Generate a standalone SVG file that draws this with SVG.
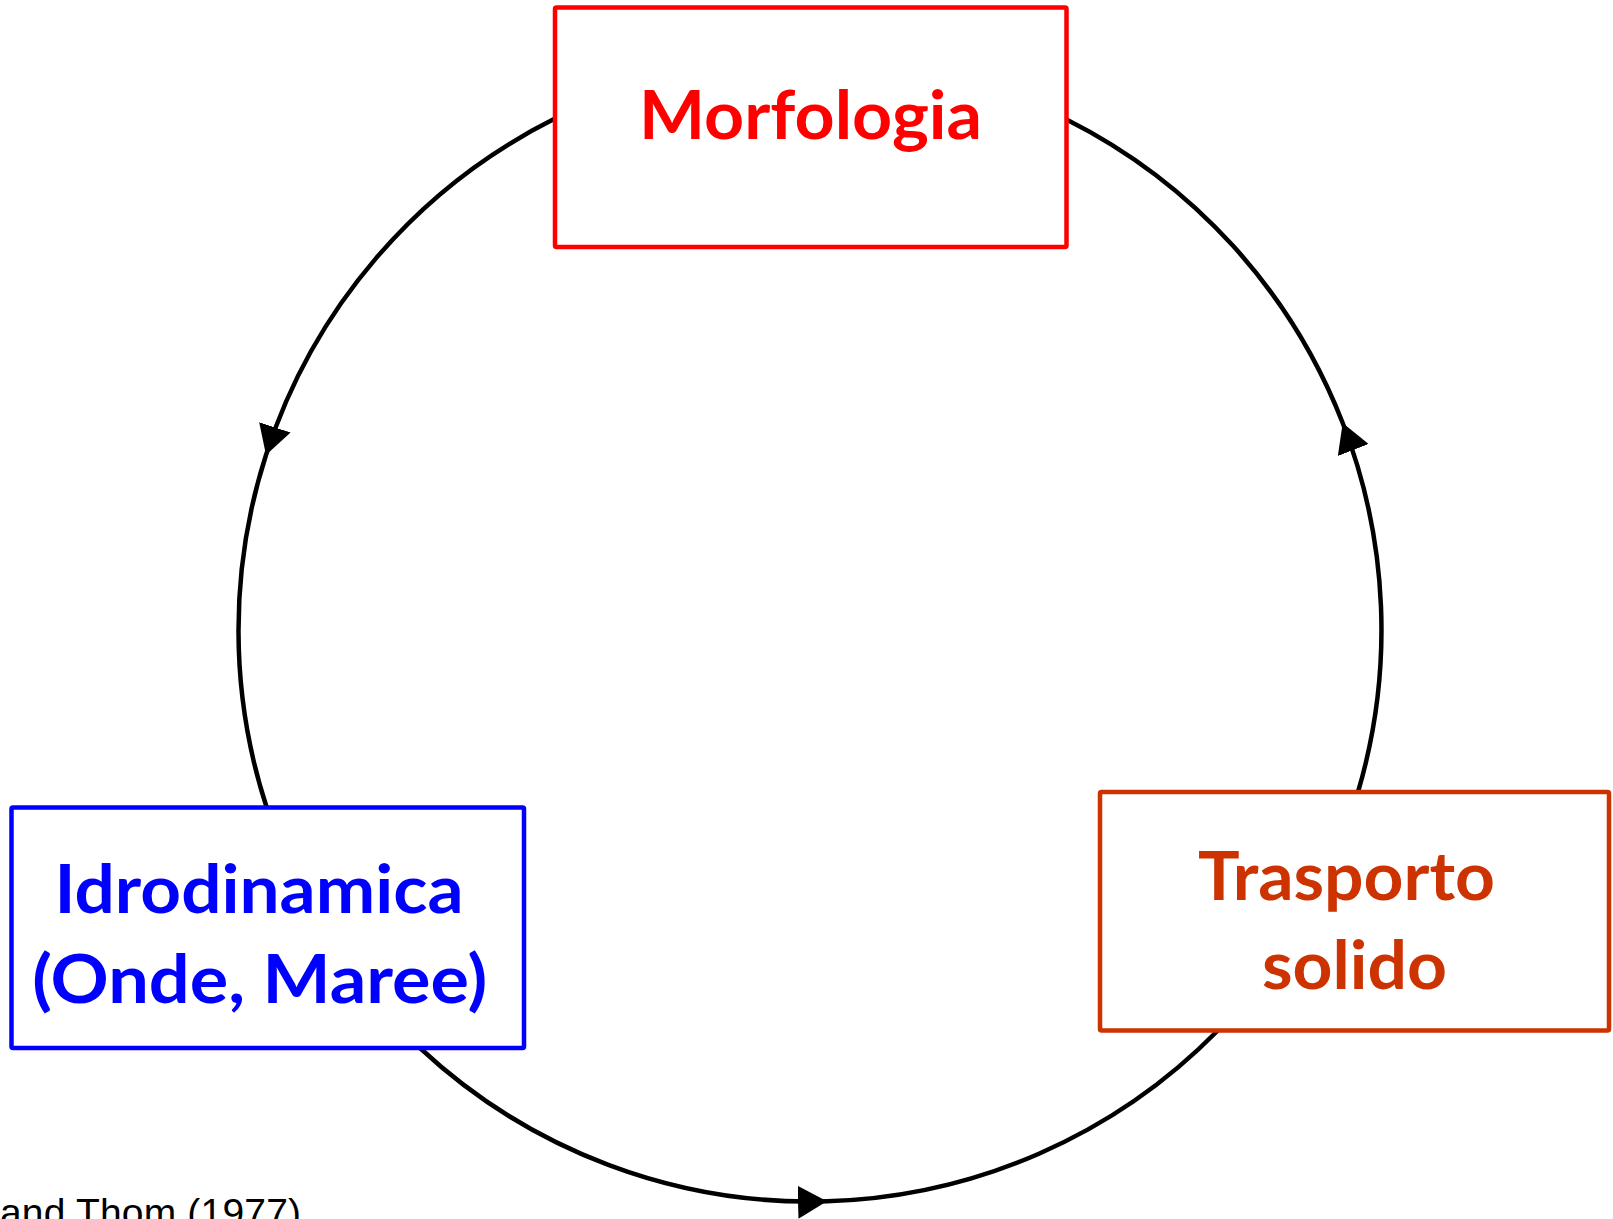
<svg xmlns="http://www.w3.org/2000/svg" width="1613" height="1219" viewBox="0 0 1613 1219">
<style>
  .box { fill: #ffffff; stroke-linejoin: round; stroke-width: 4.5; }
  .lbl { font-family: Lato, "Open Sans", "Liberation Sans", sans-serif; font-weight: bold; font-size: 66px; text-anchor: middle; }
  .conn { fill: none; stroke: #000000; stroke-width: 4.5; marker-mid: url(#arrow); }
  .note { font-family: "Liberation Sans", Arial, sans-serif; font-size: 39px; fill: #000000; }
</style>
<defs>
  <marker id="arrow" markerUnits="userSpaceOnUse" markerWidth="29" markerHeight="33" viewBox="0 0 29 33" refX="29" refY="16.5" orient="auto">
    <path d="M0,0 L29,16.5 L0,33 Z" fill="#000000"/>
  </marker>
</defs>
<rect width="1613" height="1219" fill="#ffffff"/>
<g id="connectors">
  <path class="conn" d="M555,118.6 A571.5,571.5 0 0 0 266,455 A571.5,571.5 0 0 0 266.7,807.5"/>
  <path class="conn" d="M420,1048 A571.5,571.5 0 0 0 827,1201.3 A571.5,571.5 0 0 0 1217.8,1030.5"/>
  <path class="conn" d="M1358,792 A571.5,571.5 0 0 0 1342.7,423 A571.5,571.5 0 0 0 1066.5,119.4"/>
</g>
<g id="node-morfologia">
  <rect class="box" x="555" y="7.5" width="511.5" height="239.5" rx="1.5" stroke="#ff0000"/>
  <text class="lbl" x="810.6" y="139" fill="#ff0000" textLength="343" lengthAdjust="spacingAndGlyphs">Morfologia</text>
</g>
<g id="node-idrodinamica">
  <rect class="box" x="11.5" y="807.5" width="512.5" height="240.5" rx="1.5" stroke="#0000ff"/>
  <text class="lbl" x="259" y="913" fill="#0000ff" textLength="409" lengthAdjust="spacingAndGlyphs">Idrodinamica</text>
  <text class="lbl" x="259.7" y="1003" fill="#0000ff" textLength="455" lengthAdjust="spacingAndGlyphs">(Onde, Maree)</text>
</g>
<g id="node-trasporto">
  <rect class="box" x="1100" y="792" width="509" height="238.5" rx="1.5" stroke="#cc3300"/>
  <text class="lbl" x="1346.5" y="900" fill="#cc3300" textLength="297" lengthAdjust="spacingAndGlyphs">Trasporto</text>
  <text class="lbl" x="1354.5" y="989" fill="#cc3300" textLength="185" lengthAdjust="spacingAndGlyphs">solido</text>
</g>
<text class="note" x="0" y="1226" textLength="301">and Thom (1977)</text>
</svg>
